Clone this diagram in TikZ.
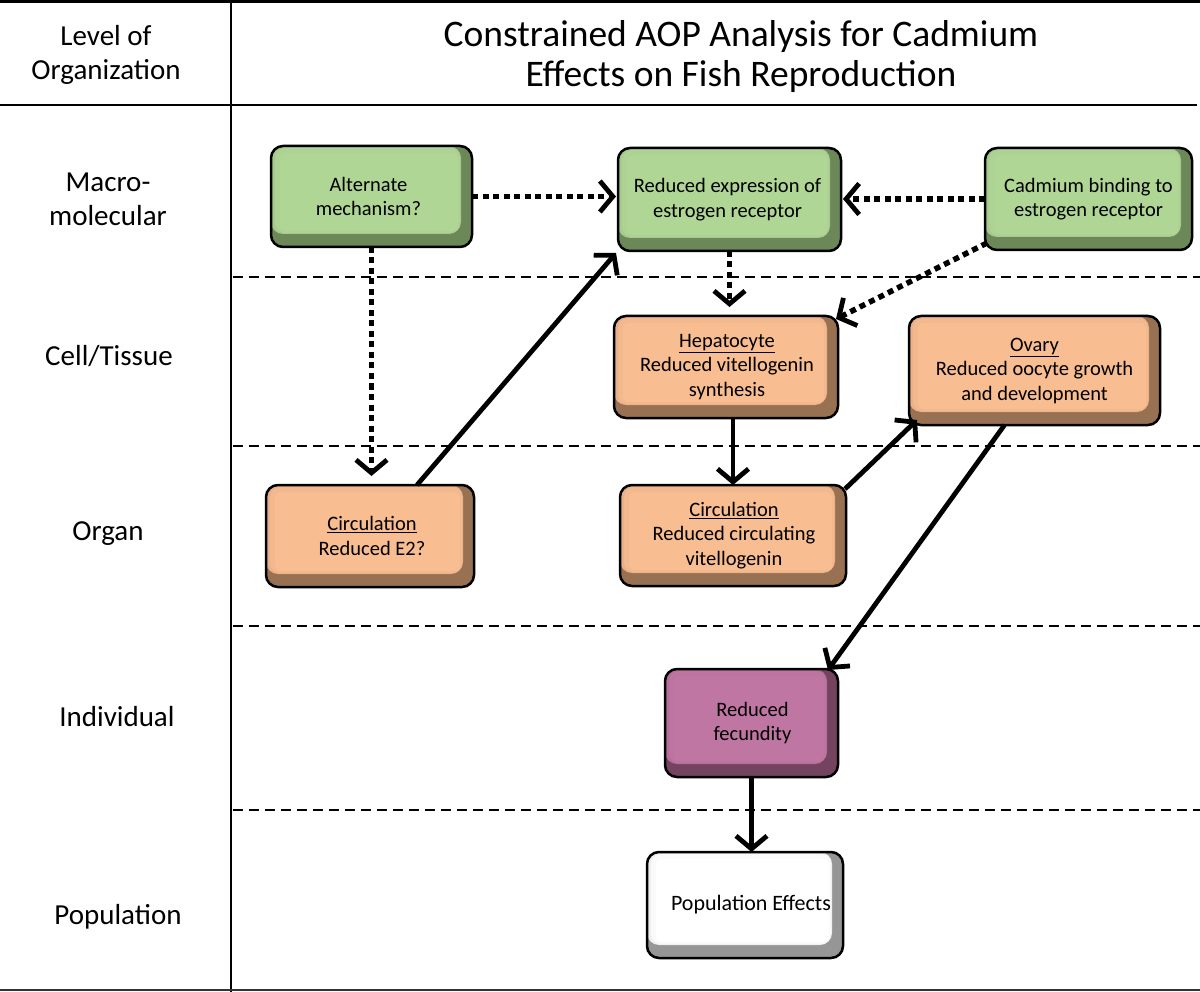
\documentclass[tikz,border=0pt]{standalone}
\usepackage{fontspec}
\setmainfont{Carlito}
\usetikzlibrary{arrows.meta,calc}
\definecolor{gmain}{RGB}{176,214,150}
\definecolor{gdark}{RGB}{108,135,88}
\definecolor{omain}{RGB}{248,189,145}
\definecolor{odark}{RGB}{152,112,82}
\definecolor{pmain}{RGB}{192,118,163}
\definecolor{pdark}{RGB}{115,67,96}
\definecolor{wmain}{RGB}{255,255,255}
\definecolor{wdark}{RGB}{150,150,150}
\tikzset{
  boxframe/.style={draw=black,line width=2.5pt,rounded corners=12pt,inner sep=0pt,outer sep=0pt,rectangle},
  boxtext/.style={align=center,inner sep=0pt,font=\fontsize{20.5pt}{24.5pt}\selectfont},
  levtext/.style={align=center,inner sep=0pt,font=\fontsize{29pt}{34pt}\selectfont},
  titletext/.style={align=center,inner sep=0pt,font=\fontsize{37.5pt}{40pt}\selectfont},
  sepline/.style={line width=2pt,dash pattern=on 10pt off 6pt},
  frameline/.style={line width=2.8pt},
  sarrow/.style={line width=4.8pt,-{Straight Barb[length=13pt,width=31pt,line width=4.8pt]}},
  darrow/.style={line width=5.5pt,dash pattern=on 6pt off 4.5pt,-{Straight Barb[length=13pt,width=31pt,line width=4.8pt]}},
}
\newcommand\bevelbox[9]{%
  \fill[#7,rounded corners=12pt] (#2,#3) rectangle (#4,#5);
  \fill[#6!85!#7,rounded corners=12pt] (#2,#3) rectangle ({#4-11},{#5-13});
  \fill[#6!95!#7,rounded corners=10pt] ({#2+4},{#3+2}) rectangle ({#4-12},{#5-14});
  \fill[#6,rounded corners=6pt] ({#2+9},{#3+7}) rectangle ({#4-14},{#5-16});
  \node[boxframe,minimum width={(#4-#2)*1pt},minimum height={(#5-#3)*1pt}] (#1) at ({(#2+#4)/2},{(#3+#5)/2}) {};
  \node[boxtext] (#1-t) at ({(#2+#4)/2+#9},{(#3+#5)/2}) {#8};
}
\begin{document}
\begin{tikzpicture}[x=1pt,y=-1pt]
\useasboundingbox (0,0) rectangle (1200,992);
\fill[white] (0,0) rectangle (1200,992);
% frame
\draw[frameline] (0,1.5) -- (1200,1.5);
\draw[frameline] (0,105) -- (1197,105);
\draw[frameline] (231,0) -- (231,992);
\draw[frameline,black!80] (0,990) -- (1200,990);
% separators
\draw[sepline] (233,277) -- (1200,277);
\draw[sepline] (233,446) -- (1200,446);
\draw[sepline] (233,626) -- (1200,626);
\draw[sepline] (233,810) -- (1200,810);
% headings
\node[levtext] (hlev) at (106,55) {Level of\\Organization};
\node[titletext] (htitle) at (741,57) {Constrained AOP Analysis for Cadmium\\Effects on Fish Reproduction};
\node[levtext] (lmac) at (108,199) {Macro-\\molecular};
\node[levtext] (lcell) at (109,356) {Cell/Tissue};
\node[levtext] (lorg) at (108,534) {Organ};
\node[levtext] (lind) at (117,717) {Individual};
\node[levtext] (lpop) at (118,917) {Population};
% boxes
\bevelbox{alt}{271}{146}{472}{247}{gmain}{gdark}{Alternate\\mechanism?}{-3}
\bevelbox{expr}{618}{148}{841}{251}{gmain}{gdark}{Reduced expression of\\estrogen receptor}{-2}
\bevelbox{cad}{985}{148}{1192}{250}{gmain}{gdark}{Cadmium binding to\\estrogen receptor}{0}
\bevelbox{hep}{614}{316}{838}{418}{omain}{odark}{\underline{Hepatocyte}\\Reduced vitellogenin\\synthesis}{1}
\bevelbox{ovary}{909}{316}{1160}{425}{omain}{odark}{\underline{Ovary}\\Reduced oocyte growth\\and development}{0}
\bevelbox{circ}{620}{485}{846}{586}{omain}{odark}{\underline{Circulation}\\Reduced circulating\\vitellogenin}{1}
\bevelbox{e2}{266}{485}{474}{587}{omain}{odark}{\underline{Circulation}\\Reduced E2?}{2}
\bevelbox{fec}{665}{669}{838}{777}{pmain}{pdark}{Reduced\\fecundity}{1}
\bevelbox{pop}{647}{852}{843}{958}{wmain}{wdark}{\fontsize{22pt}{26pt}\selectfont Population Effects}{6}
% connectors
\draw[darrow,shorten >=2pt] (alt.east) -- (alt.east -| expr.west);
\draw[darrow,shorten >=2pt] (cad.west) -- (cad.west -| expr.east);
\draw[darrow,shorten >=9pt] (expr.south) -- (expr.south |- hep.north);
\draw[darrow] ([xshift=2pt,yshift=7pt]cad.south west) -- ([xshift=-2pt,yshift=-3pt]hep.north east);
\draw[darrow,shorten >=9pt] (alt.south) -- (alt.south |- e2.north);
\draw[sarrow] ([xshift=47pt]e2.north) -- ([xshift=-2pt,yshift=-2pt]expr.south west);
\draw[sarrow] (circ.north |- hep.south) -- (circ.north);
\draw[sarrow] ([xshift=-1pt,yshift=-4pt]circ.north east) -- ([xshift=8pt,yshift=5pt]ovary.south west);
\draw[sarrow] ([xshift=-30pt]ovary.south) -- ([xshift=-10pt,yshift=-1pt]fec.north east);
\draw[sarrow] (fec.south) -- (fec.south |- pop.north);
\end{tikzpicture}
\end{document}
